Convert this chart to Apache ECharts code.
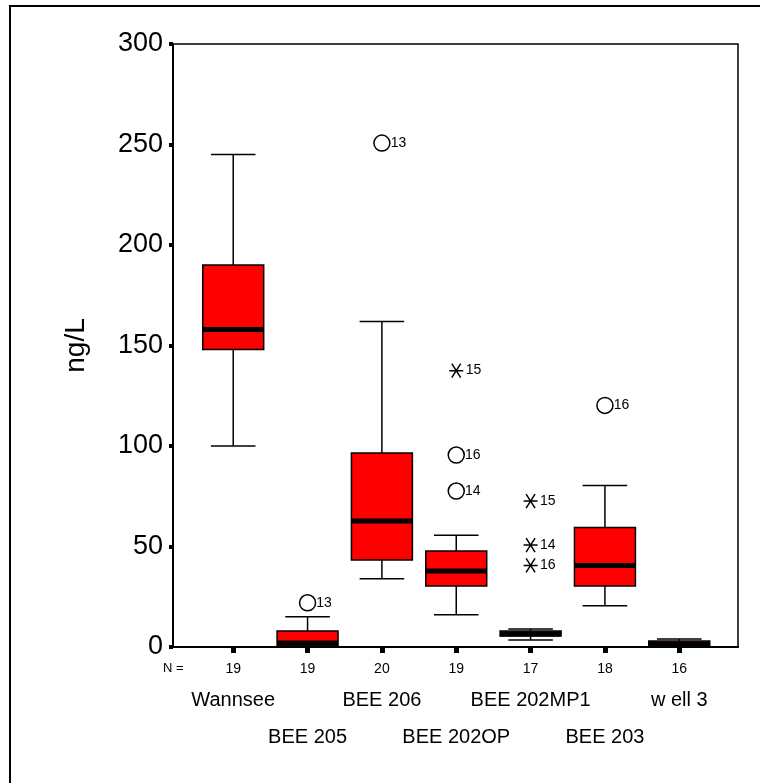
<!DOCTYPE html>
<html>
<head>
<meta charset="utf-8">
<script src="https://cdn.jsdelivr.net/npm/echarts@6/dist/echarts.min.js"></script>
<style>
html,body{margin:0;padding:0;background:#fff;}
#chart{width:760px;height:783px;}
</style>
</head>
<body>
<div id="chart"></div>
<script>
// ---- data ----
var categories = ['Wannsee', 'BEE 205', 'BEE 206', 'BEE 202OP', 'BEE 202MP1', 'BEE 203', 'w ell 3'];
var nValues = [19, 19, 20, 19, 17, 18, 16];
var whiskerLow = [100, 0, 34, 16, 3.5, 20.5, 0];
var q1 = [148, 0.5, 43.3, 30.3, 5.5, 30.3, 0.5];
var median = [158, 2, 62.7, 37.8, 6.5, 40.6, 1.5];
var q3 = [190, 8, 96.5, 47.8, 8, 59.5, 3];
var whiskerHigh = [245, 15, 162, 55.6, 9, 80.4, 4];
// outliers: [category index, value, case label]
var outlierCat = [2, 1, 3, 3, 5];
var outlierVal = [250.7, 22, 95.5, 77.6, 120.2];
var outlierLbl = ['13', '13', '16', '14', '16'];
// extremes
var extremeCat = [3, 4, 4, 4];
var extremeVal = [137.5, 72.6, 50.7, 40.6];
var extremeLbl = ['15', '15', '14', '16'];
var yTicks = [0, 50, 100, 150, 200, 250, 300];

var boxData = categories.map(function (c, i) {
  return [i, whiskerLow[i], q1[i], median[i], q3[i], whiskerHigh[i]];
});
var outlierData = outlierVal.map(function (v, k) { return { value: [outlierCat[k], v], lbl: outlierLbl[k] }; });
var extremeData = extremeVal.map(function (v, k) { return { value: [extremeCat[k], v], lbl: extremeLbl[k] }; });
var catIdx = categories.map(function (c, i) { return i; });
var evenIdx = catIdx.filter(function (i) { return i % 2 === 0; });
var oddIdx = catIdx.filter(function (i) { return i % 2 === 1; });

var FONT = 'Liberation Sans, Arial, sans-serif';

function renderBox(params, api) {
  var i = api.value(0);
  var lo = api.coord([i, api.value(1)]);
  var b1 = api.coord([i, api.value(2)]);
  var md = api.coord([i, api.value(3)]);
  var b3 = api.coord([i, api.value(4)]);
  var hi = api.coord([i, api.value(5)]);
  var bw = api.size([0.82, 0])[0];
  var cw = api.size([0.6, 0])[0];
  var x = lo[0];
  var ls = { stroke: '#000', lineWidth: 1.5 };
  return {
    type: 'group',
    children: [
      { type: 'line', shape: { x1: x, y1: b3[1], x2: x, y2: hi[1] }, style: ls },
      { type: 'line', shape: { x1: x, y1: b1[1], x2: x, y2: lo[1] }, style: ls },
      { type: 'line', shape: { x1: x - cw / 2, y1: hi[1], x2: x + cw / 2, y2: hi[1] }, style: ls },
      { type: 'line', shape: { x1: x - cw / 2, y1: lo[1], x2: x + cw / 2, y2: lo[1] }, style: ls },
      { type: 'rect', shape: { x: x - bw / 2, y: b3[1], width: bw, height: b1[1] - b3[1] },
        style: { fill: '#ff0000', stroke: '#000', lineWidth: 1.5 } },
      { type: 'line', shape: { x1: x - bw / 2, y1: md[1], x2: x + bw / 2, y2: md[1] },
        style: { stroke: '#000', lineWidth: 5 } }
    ]
  };
}

var richStyles = {
  n: { fontSize: 14, lineHeight: 16, fontFamily: FONT, color: '#000' },
  s: { fontSize: 10, lineHeight: 37 },
  a: { fontSize: 20, lineHeight: 46, fontFamily: FONT, color: '#000' }
};

function makeXAxis(labelIdx, primary) {
  return {
    type: 'value', min: -0.81, max: 6.79, position: 'bottom', offset: 0,
    splitLine: { show: false },
    axisLine: { show: primary, onZero: false, lineStyle: { color: '#000', width: 2 } },
    axisTick: { show: primary, customValues: catIdx, length: 6, inside: false, lineStyle: { color: '#000', width: 5 } },
    axisLabel: {
      customValues: labelIdx, margin: 14, color: '#000', fontFamily: FONT,
      hideOverlap: false,
      formatter: function (v) {
        var i = Math.round(v);
        if (i % 2 === 0) return '{n|' + nValues[i] + '}\n{a|' + categories[i] + '}';
        return '{n|' + nValues[i] + '}\n{s| }\n{a|' + categories[i] + '}';
      },
      rich: richStyles
    }
  };
}

var chart = echarts.init(document.getElementById('chart'), null, { renderer: 'canvas' });
chart.setOption({
  animation: false,
  backgroundColor: '#fff',
  grid: { left: 173, top: 44, right: 22, bottom: 136, show: true, borderColor: '#000', borderWidth: 1.5, containLabel: false },
  graphic: [
    { type: 'rect', shape: { x: 10, y: 6, width: 900, height: 900 }, style: { fill: 'none', stroke: '#000', lineWidth: 2 }, silent: true },
    { type: 'text', left: 163, top: 662, style: { text: 'N =', font: '13px ' + FONT, fill: '#000' } }
  ],
  xAxis: [makeXAxis(evenIdx, true), makeXAxis(oddIdx, false)],
  yAxis: {
    type: 'value', min: 0, max: 300, interval: 50,
    name: 'ng/L', nameLocation: 'middle', nameGap: 83, nameRotate: 90,
    nameTextStyle: { fontSize: 28, fontFamily: FONT, color: '#000' },
    splitLine: { show: false },
    axisLine: { show: true, onZero: false, lineStyle: { color: '#000', width: 2 } },
    axisTick: { show: true, length: 4, lineStyle: { color: '#000', width: 4 } },
    axisLabel: { fontSize: 27, fontFamily: FONT, color: '#000', margin: 10,
      formatter: function (v) { return yTicks.indexOf(v) >= 0 ? String(v) : ''; } }
  },
  series: [
    { type: 'custom', renderItem: renderBox, data: boxData, xAxisIndex: 0, encode: { x: 0, y: [1, 2, 3, 4, 5] }, z: 3 },
    { type: 'scatter', data: outlierData, xAxisIndex: 0, symbol: 'circle', symbolSize: 16,
      itemStyle: { color: 'rgba(255,255,255,0)', borderColor: '#000', borderWidth: 1.5, opacity: 1 },
      label: { show: true, position: 'right', distance: 0, formatter: function (p) { return p.data.lbl; },
        fontSize: 14, fontFamily: FONT, color: '#000' }, z: 4 },
    { type: 'scatter', data: extremeData, xAxisIndex: 0,
      symbol: 'path://M0,5 L10,5 M1.8,0.5 L8.2,9.5 M8.2,0.5 L1.8,9.5', symbolSize: 14,
      itemStyle: { color: 'none', borderColor: '#000', borderWidth: 1.5, opacity: 1 },
      label: { show: true, position: 'right', distance: 0, formatter: function (p) { return p.data.lbl; },
        fontSize: 14, fontFamily: FONT, color: '#000' }, z: 4 }
  ]
});
</script>
</body>
</html>
